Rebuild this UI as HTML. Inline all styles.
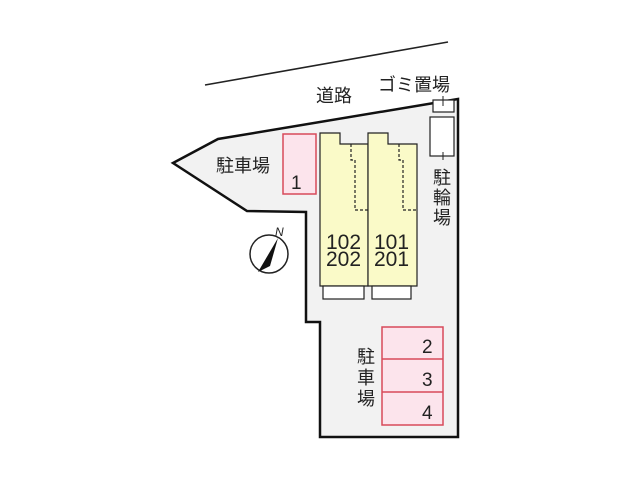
<!DOCTYPE html>
<html><head><meta charset="utf-8"><style>
body{margin:0;background:#fff}
svg text{font-family:"Liberation Sans","Noto Sans CJK JP",sans-serif;fill:#222}
</style></head><body>
<svg width="640" height="480" viewBox="0 0 640 480">
<line x1="205" y1="85" x2="448" y2="42" stroke="#222" stroke-width="1.6"/>
<polygon points="173,163 218,139 458,99 458,437 320,437 320,322 306,322 306,212 247,211" fill="#f2f2f2" stroke="#111" stroke-width="2.5"/>
<rect x="283" y="134" width="33" height="60" fill="#fce4ec" stroke="#d84a5a" stroke-width="1.5"/>
<text x="291" y="189" font-size="19">1</text>
<polygon points="320,133 340,133 340,144 368,144 368,286 320,286" fill="#fafac8" stroke="#222" stroke-width="1.2"/>
<polygon points="368,133 388,133 388,144 417,144 417,286 368,286" fill="#fafac8" stroke="#222" stroke-width="1.2"/>
<polyline points="351,144 351,160 355,160 355,210 368,210" fill="none" stroke="#222" stroke-width="1.2" stroke-dasharray="3,2"/>
<polyline points="399,144 399,160 403,160 403,210 417,210" fill="none" stroke="#222" stroke-width="1.2" stroke-dasharray="3,2"/>
<rect x="323" y="286" width="41" height="13" fill="#fff" stroke="#222" stroke-width="1.2"/>
<rect x="372" y="286" width="39" height="13" fill="#fff" stroke="#222" stroke-width="1.2"/>
<text x="326" y="249" font-size="21">102</text>
<text x="326" y="266" font-size="21">202</text>
<text x="374" y="249" font-size="21">101</text>
<text x="374" y="266" font-size="21">201</text>
<rect x="433" y="100" width="21" height="12" fill="#fff" stroke="#222" stroke-width="1.2"/>
<rect x="430" y="117" width="24" height="39" fill="#fff" stroke="#222" stroke-width="1.2"/>
<line x1="443" y1="96" x2="443" y2="106" stroke="#222"/>
<line x1="443" y1="152" x2="443" y2="160" stroke="#222"/>
<circle cx="269" cy="254" r="19" fill="#fff" stroke="#222" stroke-width="1.5"/>
<polygon points="278,238 258,272 270,266" fill="#111"/>
<text x="275" y="236" font-size="12" font-style="italic">N</text>
<rect x="382" y="327" width="61" height="98" fill="#fce4ec" stroke="#d84a5a" stroke-width="1.5"/>
<line x1="382" y1="359" x2="443" y2="359" stroke="#d84a5a" stroke-width="1.5"/>
<line x1="382" y1="392" x2="443" y2="392" stroke="#d84a5a" stroke-width="1.5"/>
<text x="422" y="353" font-size="19">2</text>
<text x="422" y="386" font-size="19">3</text>
<text x="422" y="419" font-size="19">4</text>
<text x="316" y="102" font-size="18">道路</text>
<text x="378" y="91" font-size="18">ゴミ置場</text>
<text x="216" y="172" font-size="18">駐車場</text>
<text x="433" y="184" font-size="18">駐</text>
<text x="433" y="204" font-size="18">輪</text>
<text x="433" y="224" font-size="18">場</text>
<text x="357" y="363" font-size="18">駐</text>
<text x="357" y="384" font-size="18">車</text>
<text x="357" y="405" font-size="18">場</text>
</svg>
</body></html>
